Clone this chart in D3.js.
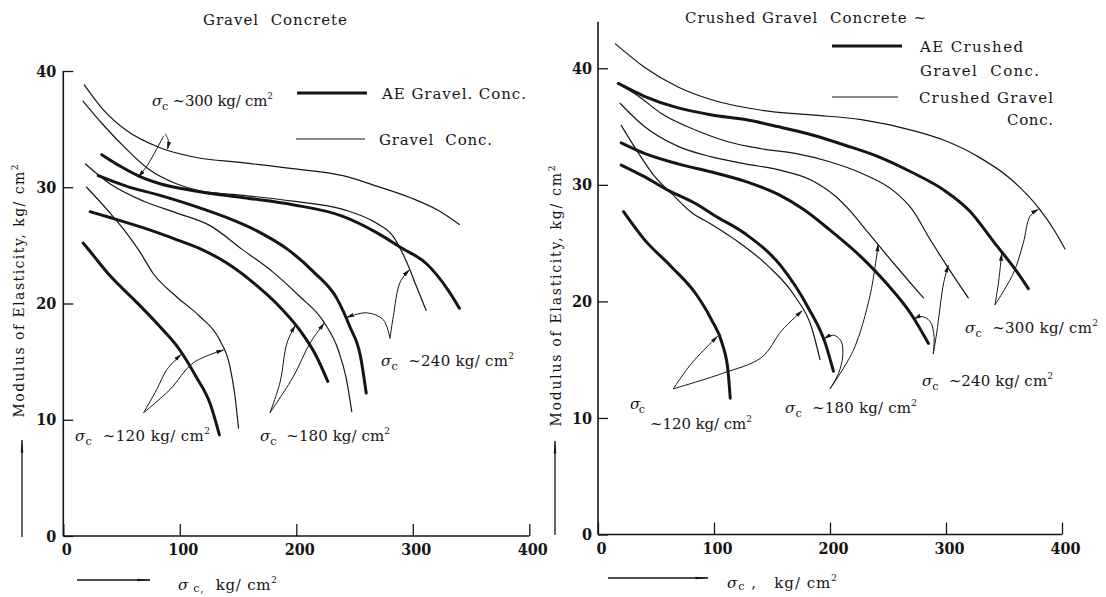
<!DOCTYPE html>
<html>
<head>
<meta charset="utf-8">
<script src="https://cdn.jsdelivr.net/npm/d3@7"></script>
<style>
  body { margin: 0; background: #fff; }
  svg text { font-family: "DejaVu Serif", "Liberation Serif", "Noto Serif", serif; fill: #151515; white-space: pre; }
  svg .tick text { font-family: "DejaVu Serif Condensed", "DejaVu Serif", serif; font-stretch: condensed; }
</style>
</head>
<body>
<svg id="chart" width="1106" height="597"></svg>
<script>
// axis values
const xTicks = [0, 100, 200, 300, 400];
const yTicks = [0, 10, 20, 30, 40];

// Gravel Concrete: [sigma_c kg/cm2, modulus]
const gravelAE300 = [[33,32.8],[49,31.8],[64,31.0],[83,30.3],[112,29.7],[155,29.1],[197,28.5],[240,27.5],[269,26.1],[290,24.8],[312,23.4],[330,21.2],[340,19.6]];
const gravelAE240 = [[30,31.0],[54,30.1],[83,29.3],[112,28.4],[140,27.4],[169,26.1],[192,24.7],[215,22.7],[235,20.4],[246,18.0],[255,15.5],[260,12.3]];
const gravelAE180 = [[23,27.9],[40,27.4],[69,26.5],[97,25.5],[120,24.6],[140,23.5],[163,21.8],[183,20.0],[203,17.7],[217,15.5],[227,13.3]];
const gravelAE120 = [[17,25.2],[22,24.6],[40,22.4],[63,20.1],[83,18.0],[100,16.0],[114,13.7],[126,11.4],[134,8.7]];
const gravel300 = [[18,38.8],[34,36.7],[54,34.9],[83,33.4],[112,32.6],[155,32.1],[197,31.6],[240,31.0],[269,30.1],[298,29.1],[322,28.0],[340,26.8]];
const gravel240 = [[17,37.4],[34,35.4],[54,33.3],[74,31.5],[97,30.3],[117,29.7],[155,29.3],[197,28.8],[240,28.1],[269,26.9],[283,25.8],[295,23.5],[303,21.5],[311.5,19.4]];
const gravel180 = [[19,32.0],[40,30.3],[69,28.8],[97,27.8],[126,26.7],[153,24.7],[180,22.7],[203,20.6],[223,18.5],[236,16.0],[243,13.5],[247.6,10.7]];
const gravel120 = [[20,30.0],[40,27.8],[54,26.1],[66,24.4],[77,22.6],[97,20.6],[117,18.9],[134,16.9],[143,14.6],[147,12.3],[150.4,9.3]];

// Crushed Gravel Concrete
const crushedAE300 = [[17.5,38.7],[40,37.6],[69,36.6],[98,36.0],[127,35.6],[155,35.0],[184,34.3],[213,33.4],[242,32.4],[270,31.1],[299,29.5],[320,27.8],[342,25.0],[360,22.7],[371,21.1]];
const crushedAE240 = [[20,33.6],[40,32.7],[69,31.8],[98,31.1],[127,30.3],[155,29.2],[177,27.9],[199,26.2],[227,23.8],[250,21.4],[270,18.9],[284.8,16.4]];
const crushedAE180 = [[20,31.7],[40,30.7],[61,29.5],[84,28.4],[100,27.4],[127,25.8],[158,23.0],[181,19.5],[196,16.4],[203,14.0]];
const crushedAE120 = [[22,27.7],[40,25.3],[63,23.0],[84,20.7],[98,18.4],[107,16.4],[112,14.1],[114,11.7]];
const crushed300 = [[15,42.1],[40,40.1],[69,38.4],[98,37.3],[141,36.4],[184,36.0],[227,35.6],[270,34.7],[299,33.8],[328,32.4],[357,30.4],[380,28.0],[394,26.0],[402.6,24.5]];
const crushed240 = [[17.5,38.7],[35,37.6],[55,36.1],[84,34.7],[112,33.7],[141,33.1],[170,32.7],[199,32.0],[227,31.0],[256,29.4],[270,28.0],[287,25.2],[305,22.4],[319.2,20.3]];
const crushed180 = [[19,37.0],[40,35.0],[69,33.3],[98,32.4],[127,31.8],[155,31.3],[184,30.4],[205,29.0],[218,27.7],[232,26.0],[247,24.2],[264,22.2],[280.5,20.3]];
const crushed120 = [[20,35.1],[35,32.7],[49,30.7],[64,29.2],[81,27.6],[98,26.6],[118,25.3],[147,23.0],[170,20.4],[184,17.8],[191.4,15.0]];

// leader arrows, in data units, last point is the tip
const gravelArrows = [
  [[87.3,34.6],[90.2,34.0],[89.5,33.3]],
  [[86.1,34.4],[80.2,33.3],[71.6,31.8],[64.4,30.9]],
  [[68.9,10.6],[80.2,12.6],[88.8,14.3],[101,15.6]],
  [[68.9,10.6],[91.6,12.6],[111.6,14.9],[137.5,16.0]],
  [[177.4,10.6],[186,13.2],[192,16.6],[199,18.1]],
  [[177.4,10.6],[197.4,13.7],[211.8,16.6],[224,18.3]],
  [[280.4,17.0],[274.7,18.6],[260.4,19.2],[243.3,18.8]],
  [[280.4,17.0],[283.3,18.9],[289,21.8],[297,22.9]]
];
const crushedArrows = [
  [[64.9,12.5],[80.8,14.7],[103,17.0]],
  [[64.9,12.5],[106.6,13.8],[141.1,15.2],[158.4,17.5],[176,19.2]],
  [[200,12.5],[220.1,15.8],[234.5,20.5],[241.5,24.9]],
  [[200,12.5],[207.2,13.8],[211,15.3],[209.5,16.6],[203,17.1],[195,16.8]],
  [[289,15.5],[292,17.3],[298,21.6],[302,23.1]],
  [[289,15.5],[289.7,17.0],[286.2,18.3],[279,18.7],[272.5,18.5]],
  [[342.2,19.7],[345.1,21.5],[348,24.1]],
  [[342.2,19.7],[358,22.4],[366.6,25.0],[372.4,27.3],[379.6,27.9]]
];

// strength labels: anchor in data units, text after the sigma, width
const gravelLabels = [
  {at: [76.1, 37.0], rest: " ~300 kg/ cm", len: 121},
  {at: [10.0, 8.2], rest: "  ~120 kg/ cm", len: 135},
  {at: [168.8, 8.2], rest: "  ~180 kg/ cm", len: 130},
  {at: [272.7, 14.6], rest: "  ~240 kg/ cm", len: 133}
];
const crushedLabels = [
  {at: [27.6, 10.8], rest: "", len: 15},
  {at: [44.8, 9.05], rest: "~120 kg/ cm", len: 102, noSigma: true},
  {at: [161.2, 10.4], rest: "  ~180 kg/ cm", len: 132},
  {at: [279.3, 12.7], rest: "  ~240 kg/ cm", len: 131},
  {at: [316.4, 17.3], rest: "  ~300 kg/ cm", len: 133}
];

const serif = "DejaVu Serif, Liberation Serif, Noto Serif, serif";
const svg = d3.select("#chart").attr("font-family", serif);
const ink = "#151515";

const defs = svg.append("defs");
defs.append("marker").attr("id", "tip")
  .attr("viewBox", "0 0 10 6").attr("refX", 9).attr("refY", 3)
  .attr("markerWidth", 8).attr("markerHeight", 5).attr("markerUnits", "userSpaceOnUse")
  .attr("orient", "auto")
  .append("path").attr("d", "M0,0.5L10,3L0,5.5Z").attr("fill", ink);
defs.append("marker").attr("id", "longtip")
  .attr("viewBox", "0 0 16 6").attr("refX", 15).attr("refY", 3)
  .attr("markerWidth", 16).attr("markerHeight", 5).attr("markerUnits", "userSpaceOnUse")
  .attr("orient", "auto")
  .append("path").attr("d", "M0,1.4L16,3L0,4.6Z").attr("fill", ink);

function sigmaText(g, x, y, rest, len, size) {
  const t = g.append("text").attr("x", x).attr("y", y)
    .attr("font-size", size || 15)
    .attr("textLength", len).attr("lengthAdjust", "spacing");
  t.append("tspan").attr("font-style", "italic").text("σ");
  t.append("tspan").attr("font-size", "0.75em").attr("dy", 4).text("c");
  if (rest) {
    t.append("tspan").attr("dy", -4).text(rest);
    t.append("tspan").attr("font-size", "0.6em").attr("dy", -7).text("2");
  }
  return t;
}

function plainText(g, x, y, str, len, size, anchor) {
  return g.append("text").attr("x", x).attr("y", y)
    .attr("font-size", size || 15)
    .attr("text-anchor", anchor || "start")
    .attr("textLength", len).attr("lengthAdjust", "spacing")
    .text(str);
}

function drawPanel(p) {
  const g = svg.append("g");
  const x = d3.scaleLinear().domain([0, 400]).range([p.left, p.right]);
  const y = d3.scaleLinear().domain([0, 40]).range([p.bottom, p.top]);

  // axes
  const ax = g.append("g").attr("transform", `translate(0,${p.bottom})`)
    .call(d3.axisBottom(x).tickValues(xTicks).tickSizeInner(-12).tickSizeOuter(0).tickPadding(8));
  const ay = g.append("g").attr("transform", `translate(${p.left},0)`)
    .call(d3.axisLeft(y).tickValues(yTicks).tickSizeInner(-10).tickSizeOuter(0).tickPadding(p.ypad));
  [ax, ay].forEach(a => {
    a.select(".domain").remove();
    a.attr("font-family", null).attr("font-size", 16).attr("font-weight", "bold");
    a.selectAll("line").attr("stroke", ink).attr("stroke-width", 1.3);
    a.selectAll("text").attr("fill", ink);
  });
  ax.selectAll("text").attr("dx", 3);
  g.append("line").attr("x1", x(0)).attr("x2", x(400)).attr("y1", y(0)).attr("y2", y(0))
    .attr("stroke", ink).attr("stroke-width", 1.6);
  g.append("line").attr("x1", x(0)).attr("x2", x(0)).attr("y1", y(0)).attr("y2", y(p.yTop))
    .attr("stroke", ink).attr("stroke-width", 1.6);

  // curves
  const curve = d3.line().x(d => x(d[0])).y(d => y(d[1])).curve(d3.curveMonotoneX);
  p.series.forEach(s => {
    g.append("path").attr("d", curve(s.pts)).attr("fill", "none")
      .attr("stroke", ink).attr("stroke-width", s.ae ? 3 : 1.2)
      .attr("stroke-linecap", "round");
  });

  // leader arrows
  const lead = d3.line().x(d => x(d[0])).y(d => y(d[1])).curve(d3.curveCatmullRom.alpha(0.5));
  p.arrows.forEach(a => {
    g.append("path").attr("d", lead(a)).attr("fill", "none")
      .attr("stroke", ink).attr("stroke-width", 1).attr("marker-end", "url(#tip)");
  });

  // strength labels
  p.labels.forEach(l => {
    if (l.noSigma) {
      const t = g.append("text").attr("x", x(l.at[0])).attr("y", y(l.at[1]))
        .attr("font-size", 15).attr("textLength", l.len).attr("lengthAdjust", "spacing");
      t.append("tspan").text(l.rest);
      t.append("tspan").attr("font-size", "0.6em").attr("dy", -7).text("2");
    } else {
      sigmaText(g, x(l.at[0]), y(l.at[1]), l.rest, l.len);
    }
  });

  // title and legend
  plainText(g, p.title.x, p.title.y, p.title.text, p.title.len, 15);
  p.legend.forEach(e => {
    g.append("line").attr("x1", e.line[0]).attr("x2", e.line[1])
      .attr("y1", e.line[2]).attr("y2", e.line[2])
      .attr("stroke", ink).attr("stroke-width", e.ae ? 3 : 1.2);
    e.texts.forEach(t => plainText(g, t[0], t[1], t[2], t[3], 15, t[4]));
  });

  // y title with arrow
  g.append("text")
    .attr("transform", `translate(${p.ylab.x},${p.ylab.y}) rotate(-90)`)
    .attr("text-anchor", "middle").attr("font-size", 14)
    .attr("textLength", p.ylab.len).attr("lengthAdjust", "spacing")
    .call(t => {
      t.append("tspan").text("Modulus of Elasticity, kg/ cm");
      t.append("tspan").attr("font-size", "0.65em").attr("dy", -6).text("2");
    });
  g.append("line").attr("x1", p.yarrow[0]).attr("x2", p.yarrow[0])
    .attr("y1", p.yarrow[1]).attr("y2", p.yarrow[2])
    .attr("stroke", ink).attr("stroke-width", 1.3).attr("marker-end", "url(#longtip)");

  // x title with arrow
  g.append("line").attr("x1", p.xarrow[0]).attr("x2", p.xarrow[1])
    .attr("y1", p.xarrow[2]).attr("y2", p.xarrow[2])
    .attr("stroke", ink).attr("stroke-width", 1.3).attr("marker-end", "url(#longtip)");
  const xt = g.append("text").attr("x", p.xlab.x).attr("y", p.xlab.y)
    .attr("font-size", 15).attr("textLength", p.xlab.len).attr("lengthAdjust", "spacing");
  xt.append("tspan").attr("font-style", "italic").text("σ");
  xt.append("tspan").attr("font-size", "0.75em").attr("dy", 2).text(p.xlab.sub);
  xt.append("tspan").attr("dy", -2).text(p.xlab.rest);
  xt.append("tspan").attr("font-size", "0.6em").attr("dy", -7).text("2");
}

drawPanel({
  left: 63.3, right: 529.3, bottom: 536, top: 71, yTop: 40, ypad: 7,
  series: [
    {pts: gravelAE300, ae: true}, {pts: gravelAE240, ae: true},
    {pts: gravelAE180, ae: true}, {pts: gravelAE120, ae: true},
    {pts: gravel300}, {pts: gravel240}, {pts: gravel180}, {pts: gravel120}
  ],
  arrows: gravelArrows,
  labels: gravelLabels,
  title: {x: 203, y: 25, text: "Gravel  Concrete", len: 144},
  legend: [
    {ae: true, line: [297, 367, 93], texts: [[382, 99, "AE Gravel. Conc.", 144]]},
    {line: [296, 365, 139], texts: [[379, 145, "Gravel  Conc.", 113]]}
  ],
  ylab: {x: 24, y: 291, len: 253},
  yarrow: [22, 537, 440],
  xarrow: [77, 150, 580],
  xlab: {x: 178, y: 590, len: 99, sub: " c,", rest: "  kg/ cm"}
});

drawPanel({
  left: 598, right: 1062, bottom: 534.5, top: 68.3, yTop: 44, ypad: 6,
  series: [
    {pts: crushedAE300, ae: true}, {pts: crushedAE240, ae: true},
    {pts: crushedAE180, ae: true}, {pts: crushedAE120, ae: true},
    {pts: crushed300}, {pts: crushed240}, {pts: crushed180}, {pts: crushed120}
  ],
  arrows: crushedArrows,
  labels: crushedLabels,
  title: {x: 685, y: 23, text: "Crushed Gravel  Concrete ~", len: 241},
  legend: [
    {ae: true, line: [832, 902, 46], texts: [[920, 52, "AE Crushed", 103], [920, 76, "Gravel  Conc.", 119]]},
    {line: [832, 898, 97], texts: [[919, 103, "Crushed Gravel", 134], [1053, 125, "Conc.", 46, "end"]]}
  ],
  ylab: {x: 561, y: 296, len: 261},
  yarrow: [555, 535, 441],
  xarrow: [608, 708, 578],
  xlab: {x: 727, y: 588, len: 110, sub: "c", rest: " ,   kg/ cm"}
});
</script>
</body>
</html>
